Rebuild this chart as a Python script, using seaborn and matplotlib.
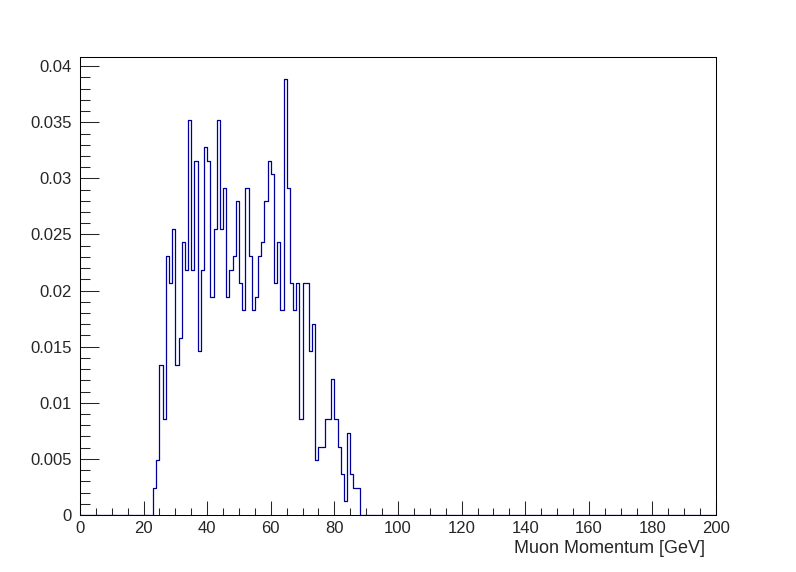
import numpy as np
import pandas as pd
import seaborn as sns
import matplotlib.pyplot as plt
from matplotlib.ticker import MultipleLocator, FuncFormatter

# 1 GeV bins, first filled bin starts at 23 GeV
bin_low = np.arange(23, 88)
fraction = [0.00243, 0.00486, 0.01337, 0.00851, 0.02309, 0.02066, 0.02552, 0.01337, 0.01580, 0.02430,
            0.02187, 0.03524, 0.02187, 0.03159, 0.01458, 0.02187, 0.03281, 0.03159, 0.01944, 0.02552,
            0.03524, 0.02552, 0.02916, 0.01944, 0.02187, 0.02309, 0.02795, 0.02066, 0.01823, 0.02916,
            0.02309, 0.01823, 0.01944, 0.02309, 0.02430, 0.02795, 0.03159, 0.03038, 0.02066, 0.02430,
            0.01823, 0.03888, 0.02916, 0.02066, 0.01823, 0.02066, 0.00851, 0.02066, 0.02066, 0.01458,
            0.01701, 0.00486, 0.00608, 0.00608, 0.00851, 0.00851, 0.01215, 0.00851, 0.00608, 0.00365,
            0.00122, 0.00729, 0.00365, 0.00243, 0.00243]

df = pd.DataFrame({"momentum": bin_low + 0.5, "fraction": fraction})

sns.set_style("white")
plt.rcParams["font.family"] = ["Liberation Sans", "DejaVu Sans"]

fig = plt.figure(figsize=(7.96, 5.72), dpi=100)
ax = fig.add_axes([0.1005, 0.0997, 0.799, 0.8007])

sns.histplot(data=df, x="momentum", weights="fraction", bins=200, binrange=(0, 200),
             element="step", fill=False, color="#000099", linewidth=0.9, ax=ax)

ax.set_xlim(0, 200)
ax.set_ylim(0, max(fraction) * 1.05)

# ROOT-like axes
for s in ax.spines.values():
    s.set_color("black")
    s.set_linewidth(0.75)
ax.xaxis.set_major_locator(MultipleLocator(20))
ax.xaxis.set_minor_locator(MultipleLocator(5))
ax.yaxis.set_major_locator(MultipleLocator(0.005))
ax.yaxis.set_minor_locator(MultipleLocator(0.001))
ax.yaxis.set_major_formatter(FuncFormatter(lambda v, p: "%g" % round(v, 4)))
ax.tick_params(axis="x", which="major", direction="in", length=10, width=0.75, pad=4, labelsize=12, bottom=True)
ax.tick_params(axis="x", which="minor", direction="in", length=5, width=0.75, bottom=True)
ax.tick_params(axis="y", which="major", direction="in", length=13.5, width=0.75, pad=6, labelsize=12, left=True)
ax.tick_params(axis="y", which="minor", direction="in", length=7, width=0.75, left=True)

ax.set_ylabel("")
ax.set_xlabel("Muon Momentum [GeV]", fontsize=13, loc="right")
ax.xaxis.set_label_coords(0.983, -0.054)

fig.savefig("out.png", dpi=100)
